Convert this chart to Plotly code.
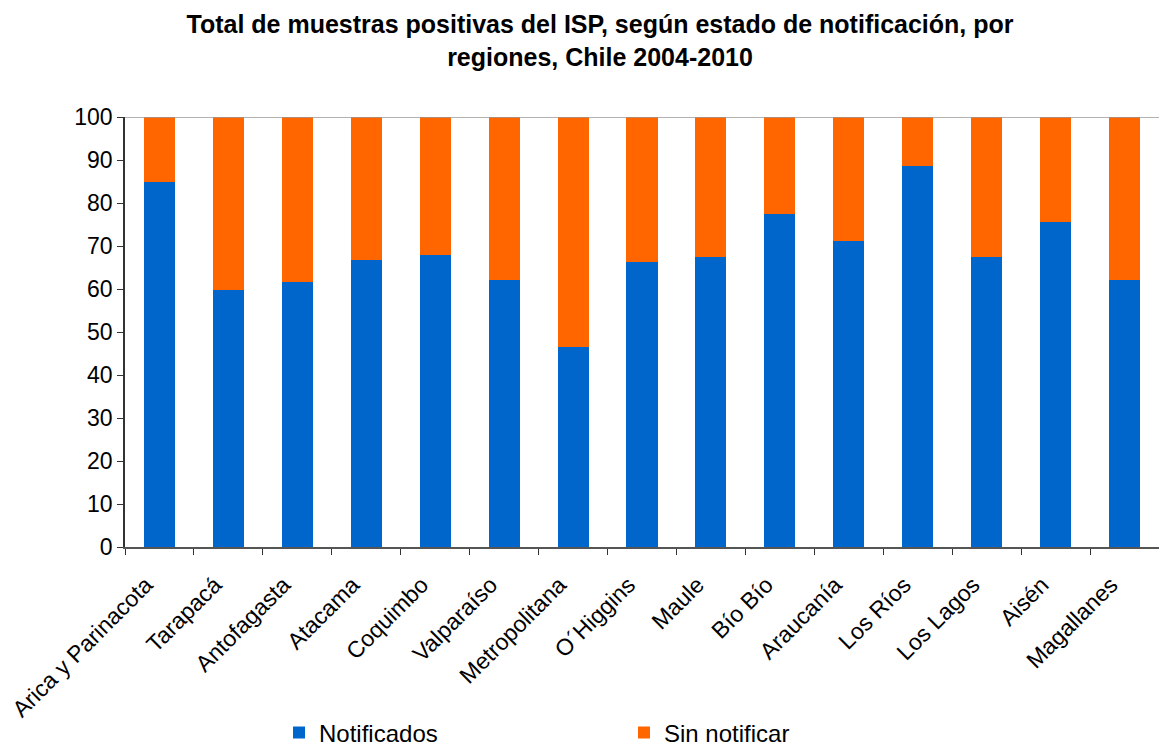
import plotly.graph_objects as go

regiones = ["Arica y Parinacota", "Tarapacá", "Antofagasta", "Atacama", "Coquimbo",
            "Valparaíso", "Metropolitana", "O´Higgins", "Maule", "Bío Bío",
            "Araucanía", "Los Ríos", "Los Lagos", "Aisén", "Magallanes"]
notificados = [84.9, 59.8, 61.6, 66.7, 67.9, 62.1, 46.5, 66.3, 67.4, 77.4,
               71.2, 88.6, 67.4, 75.6, 62.1]
sin_notificar = [round(100 - v, 1) for v in notificados]

FONT = "Liberation Sans, Arial, sans-serif"

fig = go.Figure()
fig.add_trace(go.Bar(x=regiones, y=notificados, name="Notificados",
                     marker=dict(color="#0066CC", line=dict(width=0))))
fig.add_trace(go.Bar(x=regiones, y=sin_notificar, name="Sin notificar",
                     marker=dict(color="#FF6600", line=dict(width=0))))

fig.update_layout(
    barmode="stack",
    bargap=0.55,
    width=1159, height=747,
    margin=dict(l=125, r=0, t=117, b=200, autoexpand=False),
    paper_bgcolor="white", plot_bgcolor="white",
    font=dict(family=FONT, color="black", size=22),
    title=dict(
        text="Total de muestras positivas del ISP, según estado de notificación, por<br>regiones, Chile 2004-2010",
        font=dict(family=FONT, size=25, color="black", weight="bold"),
        x=600/1159, xanchor="center", xref="container",
        y=1 - 33/747, yanchor="middle", yref="container",
        automargin=False,
    ),
    legend=dict(orientation="h", x=(279-125)/1034, xanchor="left",
                y=-(733-547)/430, yanchor="middle",
                font=dict(family=FONT, size=24),
                entrywidth=300, entrywidthmode="pixels",
                traceorder="normal",
                itemclick=False, tracegroupgap=0),
    showlegend=True,
)
fig.update_xaxes(
    type="category", range=[-0.5, 14.5], automargin=False,
    tickmode="array", tickvals=regiones,
    ticktext=[r + "\u00a0\u00a0\u00a0" for r in regiones],
    tickangle=-45, tickfont=dict(size=23),
    ticklabelstandoff=0,
    showline=True, linecolor="#555555", linewidth=1.5,
    ticks="outside", ticklen=6, tickcolor="#333333",
    tickson="boundaries", showgrid=False,
)
fig.update_yaxes(
    range=[0, 100], dtick=10, tickfont=dict(size=23), automargin=False,
    showline=True, linecolor="#333333", linewidth=1.5,
    ticks="outside", ticklen=6, tickcolor="#333333",
    ticklabelstandoff=0,
    showgrid=False, zeroline=False,
)
fig.add_shape(type="line", xref="paper", yref="y", x0=0, x1=1, y0=100, y1=100,
              line=dict(color="#999999", width=1.5))

fig.write_html("out.html",
               config={"displayModeBar": False},
               post_script="document.body.style.margin='0';document.body.style.overflow='hidden';")
